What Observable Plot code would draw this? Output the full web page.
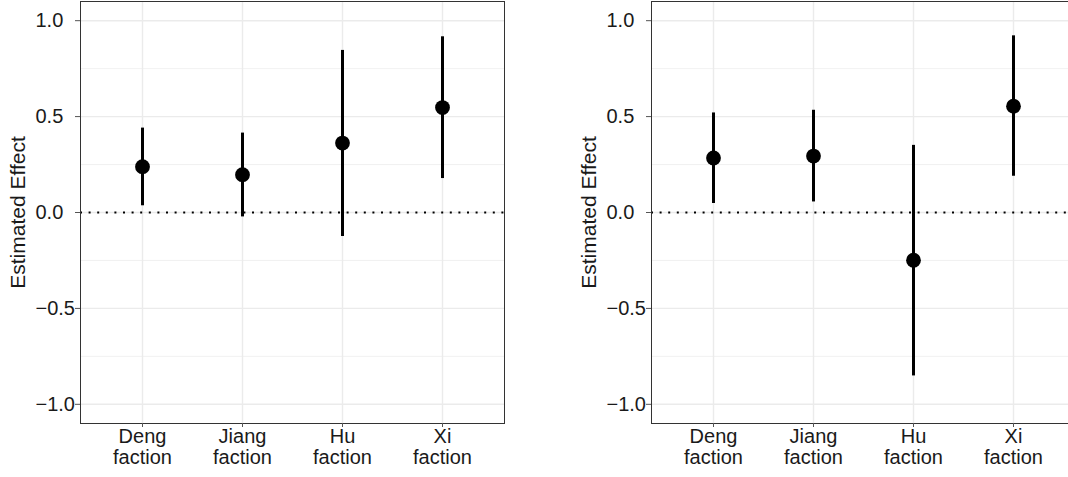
<!DOCTYPE html>
<html>
<head>
<meta charset="utf-8">
<script src="https://cdn.jsdelivr.net/npm/d3@7"></script>
<script src="https://cdn.jsdelivr.net/npm/@observablehq/plot@0.6"></script>
<style>
  html, body { margin: 0; padding: 0; background: #fff; overflow: hidden; width: 1068px; height: 477px; }
  #wrap { position: relative; width: 1068px; height: 477px; overflow: hidden; }
  .panel { position: absolute; top: 0; width: 510px; height: 477px; }
  .panel svg { max-width: none !important; width: 510px; height: 477px; }
</style>
</head>
<body>
<div id="wrap">
  <div class="panel" id="left" style="left:0px"></div>
  <div class="panel" id="right" style="left:571px"></div>
</div>
<script>
// Categories and tick labels
const factions = ["Deng", "Jiang", "Hu", "Xi"];
const factionLabels = ["Deng\nfaction", "Jiang\nfaction", "Hu\nfaction", "Xi\nfaction"];
const yTicks = [-1, -0.5, 0, 0.5, 1];
const yMinorTicks = [-0.75, -0.25, 0.25, 0.75];
const yTitle = "Estimated Effect";

// Left panel values
const leftEst = [0.239, 0.197, 0.362, 0.547];
const leftLow = [0.035, -0.023, -0.125, 0.177];
const leftHigh = [0.440, 0.414, 0.845, 0.916];

// Right panel values
const rightEst = [0.284, 0.294, -0.249, 0.554];
const rightLow = [0.047, 0.055, -0.852, 0.189];
const rightHigh = [0.519, 0.533, 0.350, 0.921];

function rows(est, lo, hi) {
  return factions.map((f, i) => ({faction: f, est: est[i], lo: lo[i], hi: hi[i]}));
}

function panel(data) {
  const labelOf = new Map(factions.map((f, i) => [f, factionLabels[i]]));
  return Plot.plot({
    width: 510,
    height: 477,
    marginLeft: 80,
    marginRight: 6,
    marginTop: 1,
    marginBottom: 54,
    style: {fontFamily: "'Liberation Sans', Arial, Helvetica, sans-serif", background: "#fff", color: "#1a1a1a", maxWidth: "none"},
    x: {type: "point", domain: factions, padding: 0.6},
    y: {domain: [-1.1, 1.1]},
    marks: [
      Plot.gridY(yMinorTicks, {stroke: "#ebebeb", strokeOpacity: 1, strokeWidth: 0.7}),
      Plot.gridY(yTicks, {stroke: "#ebebeb", strokeOpacity: 1, strokeWidth: 1.4}),
      Plot.gridX(factions, {stroke: "#ebebeb", strokeOpacity: 1, strokeWidth: 1.4}),
      Plot.ruleY([0], {stroke: "#000", strokeWidth: 1.8, strokeDasharray: "2,6.6"}),
      Plot.ruleX(data, {x: "faction", y1: "lo", y2: "hi", stroke: "#000", strokeWidth: 3}),
      Plot.dot(data, {x: "faction", y: "est", r: 7.4, fill: "#000", stroke: "none"}),
      Plot.frame({stroke: "#333", strokeWidth: 1}),
      Plot.axisY(yTicks, {
        tickFormat: d3.format(".1f"), textAnchor: "start",
        tickSize: 5, tickPadding: 40, fontSize: 20, stroke: "#555", fill: "#1a1a1a", label: null
      }),
      Plot.axisX(factions, {
        tickFormat: d => labelOf.get(d), tickSize: 4, tickPadding: 1,
        fontSize: 20, lineHeight: 1.05, stroke: "#555", fill: "#1a1a1a", label: null
      }),
      Plot.text([yTitle], {
        text: d => d, frameAnchor: "left", rotate: -90, dx: -62,
        fontSize: 21, fill: "#1a1a1a", textAnchor: "middle"
      })
    ]
  });
}

document.getElementById("left").appendChild(panel(rows(leftEst, leftLow, leftHigh)));
document.getElementById("right").appendChild(panel(rows(rightEst, rightLow, rightHigh)));
</script>
</body>
</html>
